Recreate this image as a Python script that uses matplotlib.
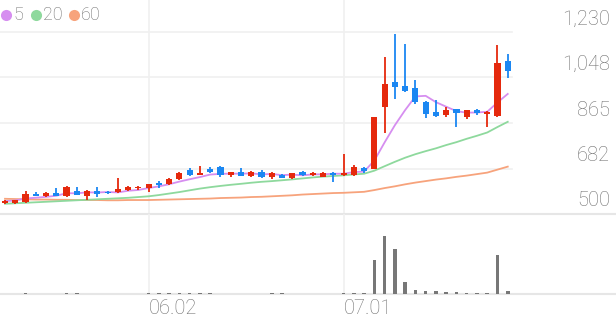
import matplotlib
matplotlib.use("Agg")
import matplotlib.pyplot as plt
import matplotlib.transforms as mtransforms
import numpy as np
import pandas as pd

# ---------------- data ----------------
opens = [546, 543, 549, 579, 571, 583, 572, 593, 572, 593,
         589, 587, 596, 603, 603, 626, 619, 639, 676, 658,
         681, 690, 656, 670, 652, 670, 647, 658, 643, 670,
         656, 650, 663, 656, 656, 684, 679, 928, 1029, 1013,
         1006, 950, 908, 897, 920, 890, 917, 902, 894, 1115]
highs = [556, 558, 593, 588, 587, 603, 613, 609, 597, 610,
         592, 643, 613, 614, 622, 634, 645, 667, 684, 692,
         688, 692, 670, 683, 674, 676, 667, 660, 665, 672,
         670, 668, 667, 741, 695, 690, 888, 1128, 1222, 1181,
         1036, 955, 957, 929, 922, 919, 921, 914, 1178, 1140]
lows = [542, 541, 546, 574, 567, 573, 568, 575, 556, 567,
        580, 585, 593, 598, 587, 606, 617, 636, 654, 657,
        664, 647, 650, 652, 650, 644, 642, 644, 640, 651,
        652, 648, 630, 654, 652, 666, 679, 826, 960, 990,
        940, 884, 890, 888, 850, 880, 897, 850, 890, 1047]
closes = [552, 556, 579, 574, 583, 574, 607, 577, 593, 580,
          584, 599, 610, 609, 619, 617, 642, 663, 656, 663,
          667, 656, 668, 654, 670, 647, 663, 646, 663, 657,
          665, 665, 658, 663, 690, 674, 888, 1021, 1008, 993,
          948, 900, 894, 917, 904, 917, 904, 908, 1104, 1075]
volumes = [60, 80, 200, 120, 150, 160, 220, 180, 160, 150,
           60, 70, 60, 60, 300, 320, 260, 300, 280, 250,
           200, 160, 140, 120, 80, 80, 240, 260, 100, 80,
           70, 80, 150, 500, 350, 250, 11600, 20000, 15400, 4000,
           1400, 1200, 900, 700, 600, 500, 450, 400, 13600, 900]
ma20 = [541, 543, 545, 547, 549, 551, 553, 555, 557, 559,
        561, 563, 565, 568, 571, 576, 582, 588, 595, 601.9,
        607.6, 612.6, 617.1, 621.1, 625.4, 629.1, 631.9, 635.3, 638.8, 642.7,
        646.7, 650.0, 652.4, 655.1, 658.7, 661.5, 673.8, 691.7, 709.3, 725.8,
        739.9, 752.1, 763.4, 776.5, 788.2, 801.7, 813.8, 826.9, 848.9, 869.8]
ma60 = [561, 560, 559, 558, 558, 557, 557, 556, 556, 556,
        555, 555, 556, 556, 556, 557, 558, 559, 560, 561,
        562, 564, 565, 566, 568, 569, 571, 573, 575, 578,
        580, 582, 584, 585, 587, 589, 596, 604, 611, 619,
        626, 632, 638, 643, 649, 654, 660, 666, 678, 690]
price_ticks = [500, 682, 865, 1048, 1230]
price_tick_labels = ["500", "682", "865", "1,048", "1,230"]
date_labels = {14: "06.02", 33: "07.01"}
legend_items = [("5", "#d68ef0"), ("20", "#8ed99d"), ("60", "#f7a37c")]

ma5 = pd.Series(closes).rolling(5, min_periods=1).mean().values

# ---------------- style ----------------
UP = "#e5290d"
DOWN = "#1b87f2"
TXT = "#707070"
GRID = "#f0f0f0"
SEP = "#e6e6e6"
plt.rcParams['font.family'] = ['Roboto', 'DejaVu Sans']

W, H = 616, 321
fig = plt.figure(figsize=(W / 100, H / 100), dpi=100)

n = len(closes)
x = np.arange(n)
step = 10.26
x0 = -5 / step
x1 = (W - 5) / step

# price axes: from top (y=0px) to y=214px
ax = fig.add_axes([0, (H - 214) / H, 1, 214 / H])
ymin, ymax = 500, 1230 + 32 * (730 / 182)
ax.set_xlim(x0, x1)
ax.set_ylim(ymin, ymax)
for s in ["top", "left", "right"]:
    ax.spines[s].set_visible(False)
ax.spines["bottom"].set_color(SEP)
ax.spines["bottom"].set_linewidth(1.5)
ax.set_xticks([])
ax.set_yticks([])

grid_end = 512 / W
for t in price_ticks[1:]:
    ax.axhline(t, xmin=0, xmax=grid_end, color=GRID, lw=1.2, zorder=0)
for i in date_labels:
    ax.axvline(i, color=GRID, lw=1.2, zorder=0)

# candles
bw = 0.6
for i in range(n):
    o, h, l, c = opens[i], highs[i], lows[i], closes[i]
    col = UP if c >= o else DOWN
    ax.vlines(x[i], l, h, color=col, lw=1.3, zorder=3)
    bottom = min(o, c)
    height = max(abs(c - o), 2.5)
    ax.bar(x[i], height, bottom=bottom, width=bw, color=col, zorder=4, linewidth=0)

ax.plot(x, ma60, color=legend_items[2][1], lw=1.3, zorder=2)
ax.plot(x, ma20, color=legend_items[1][1], lw=1.3, zorder=2)
ax.plot(x, ma5, color=legend_items[0][1], lw=1.3, zorder=2)

# price labels (right, above gridline)
lab_tr = mtransforms.offset_copy(
    mtransforms.blended_transform_factory(ax.transAxes, ax.transData),
    fig=fig, x=0, y=13, units='dots')
for t, lab in zip(price_ticks, price_tick_labels):
    ax.text(610 / W, t, lab, transform=lab_tr, ha='right', va='center',
            fontsize=14.5, color=TXT, fontweight='light')

# legend
lx = [6, 36, 74]
tx = [13, 43, 81]
for (lab, col), cx, txx in zip(legend_items, lx, tx):
    fig.add_artist(plt.Line2D([cx / W], [1 - 15 / H], marker='o', markersize=8,
                              color=col, markeredgewidth=0, transform=fig.transFigure))
    fig.text(txx / W, 1 - 15 / H, lab, ha='left', va='center', fontsize=13,
             color=TXT, fontweight='light')

# volume axes: y=214px..294px
axv = fig.add_axes([0, (H - 294) / H, 1, 80 / H])
axv.set_xlim(x0, x1)
axv.set_ylim(0, 20000 * 80 / 58)
for s in ["top", "left", "right"]:
    axv.spines[s].set_visible(False)
axv.spines["bottom"].set_color(SEP)
axv.spines["bottom"].set_linewidth(1.5)
axv.set_xticks([])
axv.set_yticks([])
axv.patch.set_alpha(0)
for i in date_labels:
    axv.axvline(i, color=GRID, lw=1.2, zorder=0)
axv.bar(x, volumes, width=0.35, color="#777777", linewidth=0, zorder=3)

dl_tr = mtransforms.offset_copy(
    mtransforms.blended_transform_factory(axv.transData, axv.transAxes),
    fig=fig, x=0, y=-14, units='dots')
for i, lab in date_labels.items():
    axv.text(i, 0, lab, transform=dl_tr, ha='left', va='center', fontsize=14.5,
             color=TXT, fontweight='light')

fig.savefig("out.png", dpi=100)
